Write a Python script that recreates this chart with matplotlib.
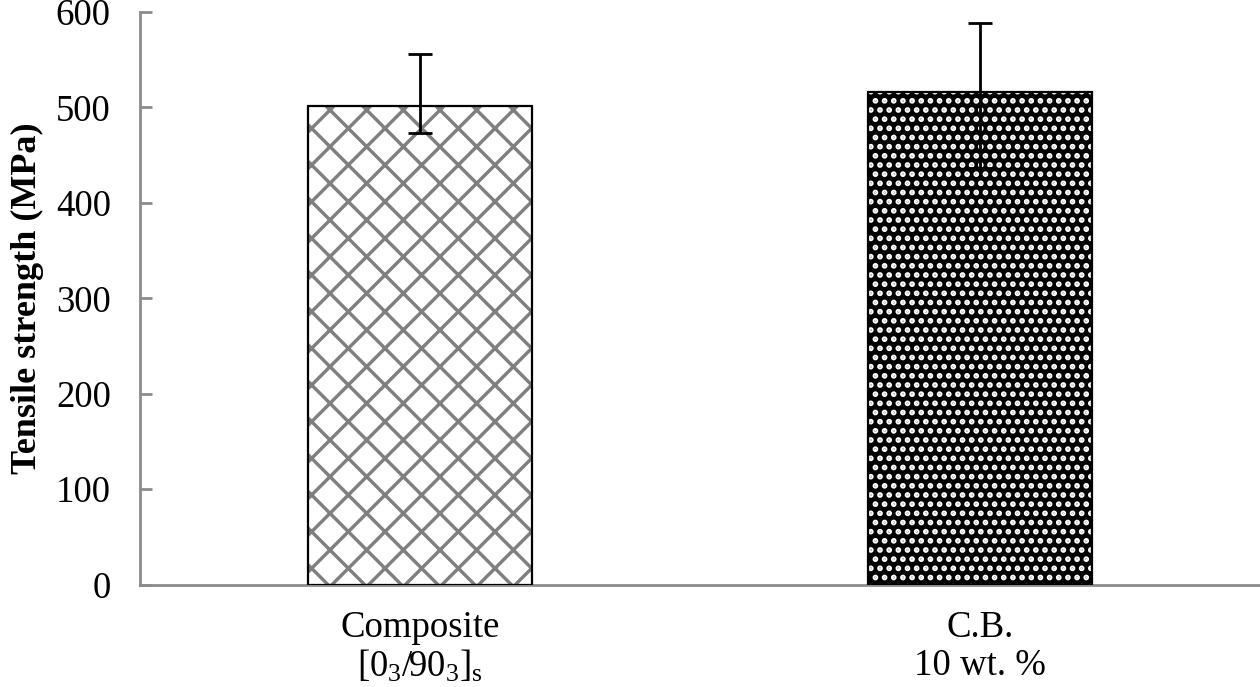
import matplotlib
matplotlib.use("Agg")
import matplotlib.pyplot as plt
import numpy as np

# ---- data ----
categories = ["Composite\n$[0_3/90_3]_\\mathrm{s}$", "C.B.\n10 wt. %"]
values = [501, 516]
err_lower = [28, 80]
err_upper = [55, 72]
yticks = [0, 100, 200, 300, 400, 500, 600]

# ---- scaling (render at high dpi so hatch spacing matches) ----
DPI = 220
S = 100.0 / DPI   # convert "points at 100 dpi" to points at DPI

plt.rcParams['font.family'] = ['Liberation Serif', 'DejaVu Serif']
plt.rcParams['mathtext.fontset'] = 'custom'
plt.rcParams['mathtext.rm'] = 'Liberation Serif'
plt.rcParams['mathtext.it'] = 'Liberation Serif:italic'
plt.rcParams['mathtext.default'] = 'rm'

fig = plt.figure(figsize=(1260 / DPI, 687 / DPI), dpi=DPI)
ax = fig.add_axes([140 / 1260, 1 - 584.5 / 687, 1 - 140 / 1260, (584.5 - 12) / 687])

x = np.arange(len(values))
width = 0.40

# bar 1: white with gray diamond lattice
with plt.rc_context({'hatch.linewidth': 3.4 * 72 / DPI, 'hatch.color': '#7f7f7f'}):
    ax.bar(x[0], values[0], width, color='white', edgecolor='#7f7f7f',
           hatch='xx', linewidth=0, zorder=2)
# bar 2: black with white speckle
with plt.rc_context({'hatch.linewidth': 3.8 * 72 / DPI, 'hatch.color': 'white'}):
    ax.bar(x[1], values[1], width, color='black', edgecolor='white',
           hatch='....', linewidth=0, zorder=2)
# outlines
ax.bar(x, values, width, fill=False, edgecolor='black', linewidth=1.6 * S, zorder=3)

ax.errorbar(x, values, yerr=[err_lower, err_upper], fmt='none', ecolor='black',
            elinewidth=2.0 * S, capsize=8.6 * S, capthick=2.0 * S, zorder=4)

ax.set_xlim(-0.5, 1.5)
ax.set_ylim(0, 600)
ax.set_yticks(yticks)
ax.set_xticks(x)
ax.set_xticklabels(categories, fontsize=26.5 * S, linespacing=1.1)

for s in ['top', 'right']:
    ax.spines[s].set_visible(False)
for s in ['left', 'bottom']:
    ax.spines[s].set_color('#8c8c8c')
    ax.spines[s].set_linewidth(2.0 * S)

ax.tick_params(axis='y', direction='in', length=8.6 * S, width=2.0 * S,
               color='#8c8c8c', labelsize=26.5 * S, pad=21 * S)
ax.tick_params(axis='x', length=0, pad=19 * S)

ax.set_ylabel('Tensile strength (MPa)', fontsize=26 * S, fontweight='bold')
ax.yaxis.set_label_coords(-(140 - 44) / 1120, 0.5)

fig.savefig('out.png', dpi=DPI)
